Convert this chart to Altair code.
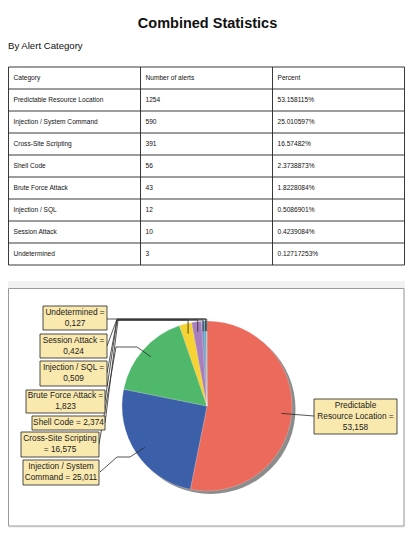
import altair as alt
import pandas as pd
import numpy as np

# ---------------- data ----------------
categories = ["Predictable Resource Location", "Injection / System Command",
              "Cross-Site Scripting", "Shell Code", "Brute Force Attack",
              "Injection / SQL", "Session Attack", "Undetermined"]
counts = [1254, 590, 391, 56, 43, 12, 10, 3]
percents = ["53.158115%", "25.010597%", "16.57482%", "2.3738873%",
            "1.8228084%", "0.5086901%", "0.4239084%", "0.12717253%"]
headers = ["Category", "Number of alerts", "Percent"]
pie_labels = ["Predictable\nResource Location =\n53,158",
              "Injection / System\nCommand = 25,011",
              "Cross-Site Scripting\n= 16,575",
              "Shell Code = 2,374",
              "Brute Force Attack =\n1,823",
              "Injection / SQL =\n0,509",
              "Session Attack =\n0,424",
              "Undetermined =\n0,127"]
colors = ["#EC6A5C", "#3B5FA9", "#50B86B", "#F6D232", "#A87EBF",
          "#7D8CC4", "#4CB2C4", "#9FCAD6"]

# ---------------- layout (styling only) ----------------
W, H = 397, 520
FONT = "Liberation Sans"
CX, CY, R = 199, 398, 85
TABLE_TOP, TABLE_BOTTOM = 59, 257
LH = 11

box_x1 = [306, 15, 13, 24, 18, 32, 32, 35]
box_x2 = [389, 91, 91, 97, 97, 99, 99, 99]
box_y1 = [391, 452, 424, 408, 382, 353, 326, 298]
box_y2 = [426, 477, 449, 422, 405, 378, 350, 322]
# leader waypoints (None = straight above the slice anchor)
waypoints = [
    [(306, 408)],
    [(92, 464), (109, 449), (122, 449)],
    [(91, 436), (108, 339), (129, 339)],
    [(97, 415), (110, 312), (None, 312)],
    [(97, 393), (109, 312), (None, 312)],
    [(99, 365), (109, 312), (None, 312)],
    [(99, 338), (109, 311), (None, 311)],
    [(99, 311), (None, 311)],
]

px = alt.Scale(domain=[0, W], range=[0, W])
py = alt.Scale(domain=[0, H], range=[0, H])

# ---------------- table ----------------
cells = []
for c, h in enumerate(headers):
    cells.append({"row": 0, "col": c, "text": h})
for i, cat in enumerate(categories):
    cells.append({"row": i + 1, "col": 0, "text": cat})
    cells.append({"row": i + 1, "col": 1, "text": str(counts[i])})
    cells.append({"row": i + 1, "col": 2, "text": percents[i]})
cells = pd.DataFrame(cells)
cells["ymid"] = cells["row"] + 0.5

nrows = len(categories) + 1
row_scale = alt.Scale(domain=[0, nrows], range=[TABLE_TOP, TABLE_BOTTOM])
col_scale = alt.Scale(domain=[0, 3], range=[0.5, W - 0.5])

table_text = alt.Chart(cells).mark_text(
    align="left", baseline="middle", dx=5, fontSize=6.6, font=FONT, color="#111"
).encode(
    x=alt.X("col:Q", scale=col_scale, axis=None),
    y=alt.Y("ymid:Q", scale=row_scale, axis=None),
    text="text:N",
)

hlines = alt.Chart(pd.DataFrame({"b": list(range(nrows + 1))})).mark_rule(
    color="#222", strokeWidth=0.9
).encode(
    y=alt.Y("b:Q", scale=row_scale, axis=None),
    x=alt.value(0.5), x2=alt.value(W - 0.5),
)
vlines = alt.Chart(pd.DataFrame({"c": [0, 1, 2, 3]})).mark_rule(
    color="#222", strokeWidth=0.9
).encode(
    x=alt.X("c:Q", scale=col_scale, axis=None),
    y=alt.value(TABLE_TOP), y2=alt.value(TABLE_BOTTOM),
)

title = alt.Chart(pd.DataFrame({"t": ["Combined Statistics"]})).mark_text(
    fontSize=14.5, fontWeight="bold", font=FONT, color="#111", baseline="alphabetic"
).encode(x=alt.value(W / 2 + 1), y=alt.value(20), text="t:N")
subtitle = alt.Chart(pd.DataFrame({"t": ["By Alert Category"]})).mark_text(
    fontSize=9.6, font=FONT, color="#111", align="left", baseline="alphabetic"
).encode(x=alt.value(0), y=alt.value(41), text="t:N")

# ---------------- chart panel ----------------
outer = alt.Chart(pd.DataFrame({"a": [0]})).mark_rect(color="#f1f1f1").encode(
    x=alt.value(0), x2=alt.value(W), y=alt.value(273), y2=alt.value(H)
)
panel = alt.Chart(pd.DataFrame({"a": [0]})).mark_rect(
    fill="white", stroke="#9a9a9a", strokeWidth=1
).encode(x=alt.value(0.5), x2=alt.value(396), y=alt.value(280.5), y2=alt.value(518))

pie_df = pd.DataFrame({"category": categories, "count": counts,
                       "idx": list(range(len(categories)))})

shadow = alt.Chart(pd.DataFrame({"a": [0]})).mark_arc(
    radius=R, theta=0, theta2=2 * np.pi, color="#8c8c8c"
).encode(x=alt.value(CX + 3.5), y=alt.value(CY + 3))

pie = alt.Chart(pie_df).mark_arc(radius=R, stroke="#ffffff", strokeWidth=0.2).encode(
    theta=alt.Theta("count:Q", stack=True),
    color=alt.Color("category:N", scale=alt.Scale(domain=categories, range=colors),
                    legend=None),
    order=alt.Order("idx:Q"),
    x=alt.value(CX), y=alt.value(CY),
)

# leader lines anchored at slice mid-angles (derived from the counts)
cnt = np.array(counts, dtype=float)
total = cnt.sum()
start = np.cumsum(cnt) - cnt
mid = (start + cnt / 2) / total * 2 * np.pi
ra = 0.88 * R
ax = CX + ra * np.sin(mid)
ay = CY - ra * np.cos(mid)

pts = []
for i, wp in enumerate(waypoints):
    seq = 0
    for (wx, wy) in wp:
        pts.append({"label": categories[i], "seq": seq,
                    "x": ax[i] if wx is None else wx, "y": wy})
        seq += 1
    pts.append({"label": categories[i], "seq": seq, "x": ax[i], "y": ay[i]})
pts = pd.DataFrame(pts)

leaders = alt.Chart(pts).mark_line(color="#2a2a2a", strokeWidth=0.8).encode(
    x=alt.X("x:Q", scale=px, axis=None),
    y=alt.Y("y:Q", scale=py, axis=None),
    detail="label:N",
    order="seq:Q",
)

boxes = pd.DataFrame({"label": pie_labels, "x1": box_x1, "x2": box_x2,
                      "y1": box_y1, "y2": box_y2})
boxes["xc"] = (boxes["x1"] + boxes["x2"]) / 2
nlines = boxes["label"].str.count("\n") + 1
boxes["yt"] = (boxes["y1"] + boxes["y2"]) / 2 - (nlines - 1) * LH / 2

box_shadow = alt.Chart(boxes).mark_rect(color="#a3a3a3", xOffset=2, yOffset=2).encode(
    x=alt.X("x1:Q", scale=px, axis=None), x2="x2:Q",
    y=alt.Y("y1:Q", scale=py, axis=None), y2="y2:Q",
)
box_rect = alt.Chart(boxes).mark_rect(fill="#F9E9AF", stroke="#222", strokeWidth=0.8).encode(
    x=alt.X("x1:Q", scale=px, axis=None), x2="x2:Q",
    y=alt.Y("y1:Q", scale=py, axis=None), y2="y2:Q",
)
box_text = alt.Chart(boxes).mark_text(
    lineBreak="\n", fontSize=8.3, font=FONT, color="#1a1a1a",
    align="center", baseline="middle", lineHeight=LH
).encode(
    x=alt.X("xc:Q", scale=px, axis=None),
    y=alt.Y("yt:Q", scale=py, axis=None),
    text="label:N",
)

chart = alt.layer(
    outer, panel, title, subtitle, hlines, vlines, table_text,
    shadow, pie, leaders, box_shadow, box_rect, box_text,
).resolve_scale(
    x="independent", y="independent"
).properties(
    width=W, height=H, padding=0,
    autosize=alt.AutoSizeParams(type="none"),
    background="white",
).configure_view(stroke=None)

chart.save("out.html", embed_options={"renderer": "svg", "actions": False})
